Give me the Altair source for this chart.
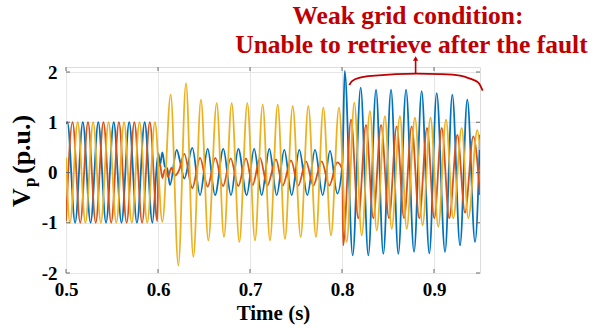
import altair as alt
import pandas as pd

# ---------------- data ----------------
blue_t = [0.5000, 0.5015, 0.5099, 0.5183, 0.5267, 0.5351, 0.5435, 0.5519, 0.5603, 0.5687, 0.5771, 0.5855, 0.5939,
          0.5990, 0.6005, 0.6022, 0.6047, 0.6075, 0.6100, 0.6130, 0.6203, 0.6240, 0.6286, 0.6373, 0.6457, 0.6540,
          0.6620, 0.6710, 0.6793, 0.6873, 0.6964, 0.7045, 0.7127, 0.7210, 0.7290, 0.7373, 0.7453, 0.7536, 0.7623,
          0.7707, 0.7790, 0.7870, 0.7949, 0.8005, 0.8029, 0.8116, 0.8203, 0.8286, 0.8370, 0.8449, 0.8533, 0.8612,
          0.8696, 0.8783, 0.8866, 0.8949, 0.9029, 0.9120, 0.9199, 0.9283, 0.9362, 0.9446, 0.9500]
blue_v = [0.97, 1.0, -1.0, 1.0, -1.0, 1.0, -1.0, 1.0, -1.0, 1.0, -1.0, 1.0, -1.0,
          0.20, 0.38, 0.15, 0.40, 0.12, 0.08, -0.25, 0.45, 0.22, -0.12, 0.49, -0.45, 0.47,
          -0.45, 0.47, -0.45, 0.47, -0.45, 0.47, -0.45, 0.47, -0.45, 0.45, -0.45, 0.45, -0.45,
          0.45, -0.45, 0.43, -0.42, 0.20, 2.02, -1.65, 1.69, -1.65, 1.65, -1.62, 1.65, -1.62,
          1.65, -1.58, 1.62, -1.61, 1.58, -1.58, 1.55, -1.45, 1.45, -1.38, 0.75]

orange_t = [0.5000, 0.5071, 0.5155, 0.5239, 0.5323, 0.5407, 0.5491, 0.5575, 0.5659, 0.5743, 0.5827, 0.5911,
            0.5992, 0.6004, 0.6020, 0.6047, 0.6075, 0.6110, 0.6145, 0.6185, 0.6225, 0.6286, 0.6373, 0.6457,
            0.6540, 0.6623, 0.6707, 0.6790, 0.6873, 0.6957, 0.7029, 0.7109, 0.7188, 0.7283, 0.7355, 0.7446,
            0.7525, 0.7609, 0.7688, 0.7779, 0.7862, 0.7949, 0.8004, 0.8012, 0.8098, 0.8177, 0.8261, 0.8340,
            0.8424, 0.8511, 0.8594, 0.8674, 0.8757, 0.8840, 0.8924, 0.9003, 0.9084, 0.9166, 0.9254, 0.9337,
            0.9427, 0.9500]
orange_v = [-0.97, 1.0, -1.0, 1.0, -1.0, 1.0, -1.0, 1.0, -1.0, 1.0, -1.0, 1.0,
            -0.97, 0.12, 0.18, -0.11, 0.06, -0.08, 0.09, -0.06, 0.03, 0.37, -0.31, 0.29,
            -0.28, 0.29, -0.27, 0.28, -0.27, 0.28, -0.25, 0.29, -0.26, 0.26, -0.26, 0.24,
            -0.26, 0.22, -0.26, 0.22, -0.26, 0.20, 0.05, -1.45, 1.05, -0.91, 0.95, -0.91,
            0.95, -0.91, 0.92, -0.91, 0.92, -0.91, 0.89, -0.91, 0.89, -0.91, 0.75, -0.80,
            0.72, -0.45]

yellow_t = [0.5000, 0.5043, 0.5127, 0.5211, 0.5295, 0.5379, 0.5463, 0.5547, 0.5631, 0.5715, 0.5799, 0.5883,
            0.5967, 0.6047, 0.6138, 0.6221, 0.6304, 0.6384, 0.6467, 0.6547, 0.6638, 0.6717, 0.6801, 0.6884,
            0.6971, 0.7054, 0.7138, 0.7217, 0.7301, 0.7380, 0.7464, 0.7551, 0.7634, 0.7717, 0.7797, 0.7880,
            0.7967, 0.8051, 0.8134, 0.8214, 0.8304, 0.8377, 0.8467, 0.8540, 0.8630, 0.8703, 0.8793, 0.8876,
            0.8962, 0.9047, 0.9130, 0.9210, 0.9301, 0.9373, 0.9471, 0.9500]
yellow_v = [0.30, -1.0, 1.0, -1.0, 1.0, -1.0, 1.0, -1.0, 1.0, -1.0, 1.0, -1.0,
            1.0, -0.98, 1.55, -1.85, 1.78, -1.68, 1.45, -1.35, 1.38, -1.28, 1.38, -1.38,
            1.38, -1.35, 1.35, -1.35, 1.35, -1.32, 1.32, -1.28, 1.32, -1.28, 1.29, -1.25,
            1.29, -1.38, 1.39, -1.25, 1.22, -1.15, 1.12, -1.12, 1.12, -1.12, 1.09, -1.05,
            1.09, -1.08, 1.05, -0.91, 0.89, -0.91, 0.85, 0.45]

bracket_t = [0.8079, 0.8109, 0.8196, 0.8359, 0.8812, 0.9065, 0.9283, 0.9391, 0.9482, 0.9529]
bracket_v = [1.74, 1.82, 1.89, 1.93, 1.97, 1.96, 1.93, 1.87, 1.79, 1.63]

arrow_t = [0.8800]
arrow_base = [1.97]
arrow_tip = [2.27]

note_lines = ["Weak grid condition:", "Unable to retrieve after the fault"]
note_t = [0.8717, 0.8755]
note_v = [2.946, 2.369]

x_ticks = [0.5, 0.6, 0.7, 0.8, 0.9]
y_ticks = [-2, -1, 0, 1, 2]

# ---------------- styling ----------------
SERIF = "Liberation Serif, Times New Roman, serif"
RED = "#C00000"
W, H = 414, 206

frames = []
for name, t, v in [("a", blue_t, blue_v), ("b", orange_t, orange_v), ("c", yellow_t, yellow_v)]:
    frames.append(pd.DataFrame({"t": t, "v": v, "phase": name}))
df = pd.concat(frames, ignore_index=True)

x_scale = alt.Scale(domain=[0.5, 0.95], nice=False, zero=False)
y_scale = alt.Scale(domain=[-2, 2.1], nice=False, zero=False)

x_axis = alt.Axis(values=x_ticks, labelExpr="format(datum.value, '.1f')", title="Time (s)",
                  grid=True, gridColor="#e6e6e6", tickSize=0, domain=False, labelFlush=False,
                  labelPadding=7, labelFont=SERIF, labelFontSize=19, labelFontWeight="bold",
                  labelColor="black", titleFont=SERIF, titleFontSize=21, titleFontWeight="bold",
                  titleColor="black", titlePadding=3)
y_axis = alt.Axis(values=y_ticks, labelExpr="'' + datum.value", title=None,
                  grid=True, gridColor="#e6e6e6", tickSize=0, domain=False,
                  labelPadding=9, labelFont=SERIF, labelFontSize=19, labelFontWeight="bold",
                  labelColor="black")

lines = alt.Chart(df).mark_line(strokeWidth=1.8, interpolate="monotone", clip=True).encode(
    x=alt.X("t:Q", scale=x_scale, axis=x_axis),
    y=alt.Y("v:Q", scale=y_scale, axis=y_axis),
    color=alt.Color("phase:N", scale=alt.Scale(domain=["a", "b", "c"],
                                                range=["#0072BD", "#D95319", "#EDB120"]), legend=None),
)

bracket = alt.Chart(pd.DataFrame({"t": bracket_t, "v": bracket_v})).mark_line(
    color=RED, strokeWidth=1.8, interpolate="monotone", clip=False
).encode(x="t:Q", y="v:Q")

arrow_df = pd.DataFrame({"t": arrow_t, "v": arrow_base, "v2": arrow_tip})
arrow = alt.Chart(arrow_df).mark_rule(color=RED, strokeWidth=1.6).encode(x="t:Q", y="v:Q", y2="v2:Q")
head = alt.Chart(arrow_df).mark_point(shape="triangle-up", filled=True, size=28, color=RED, opacity=1).encode(
    x="t:Q", y="v2:Q")

notes = alt.Chart(pd.DataFrame({"t": note_t, "v": note_v, "s": note_lines})).mark_text(
    font=SERIF, fontSize=25.5, fontWeight="bold", color=RED, align="center", baseline="alphabetic"
).encode(x="t:Q", y="v:Q", text="s:N")

# inside tick marks (MATLAB style)
xt = pd.DataFrame({"t": x_ticks})
yt = pd.DataFrame({"v": y_ticks})
tick_col = "#6a6a6a"
xt_bottom = alt.Chart(xt).mark_rule(color=tick_col, strokeWidth=1).encode(x="t:Q", y=alt.value(H), y2=alt.value(H - 4))
xt_top = alt.Chart(xt).mark_rule(color=tick_col, strokeWidth=1).encode(x="t:Q", y=alt.value(0), y2=alt.value(4))
yt_left = alt.Chart(yt).mark_rule(color=tick_col, strokeWidth=1).encode(y="v:Q", x=alt.value(0), x2=alt.value(4))
yt_right = alt.Chart(yt).mark_rule(color=tick_col, strokeWidth=1).encode(y="v:Q", x=alt.value(W), x2=alt.value(W - 4))

# y-axis title: V with subscript p, then (p.u.)
y_V = alt.Chart(pd.DataFrame({"s": ["V"]})).mark_text(
    font=SERIF, fontSize=26, fontWeight="bold", color="black", angle=270, align="left", baseline="middle"
).encode(text="s:N", x=alt.value(-44), y=alt.value(140))
y_p = alt.Chart(pd.DataFrame({"s": ["p"]})).mark_text(
    font=SERIF, fontSize=17, fontWeight="bold", color="black", angle=270, align="left", baseline="middle"
).encode(text="s:N", x=alt.value(-36), y=alt.value(120))
y_pu = alt.Chart(pd.DataFrame({"s": ["(p.u.)"]})).mark_text(
    font=SERIF, fontSize=26, fontWeight="bold", color="black", angle=270, align="left", baseline="middle"
).encode(text="s:N", x=alt.value(-44), y=alt.value(107))

chart = alt.layer(
    lines, xt_bottom, xt_top, yt_left, yt_right, bracket, arrow, head, notes, y_V, y_p, y_pu
).properties(
    width=W, height=H,
    autosize=alt.AutoSizeParams(type="none"),
    padding={"left": 66, "top": 67, "right": 129, "bottom": 55},
).configure_view(stroke="#a0a0a0", strokeWidth=1).configure(background="white")

chart.save("out.html", embed_options={"renderer": "svg", "actions": False})
